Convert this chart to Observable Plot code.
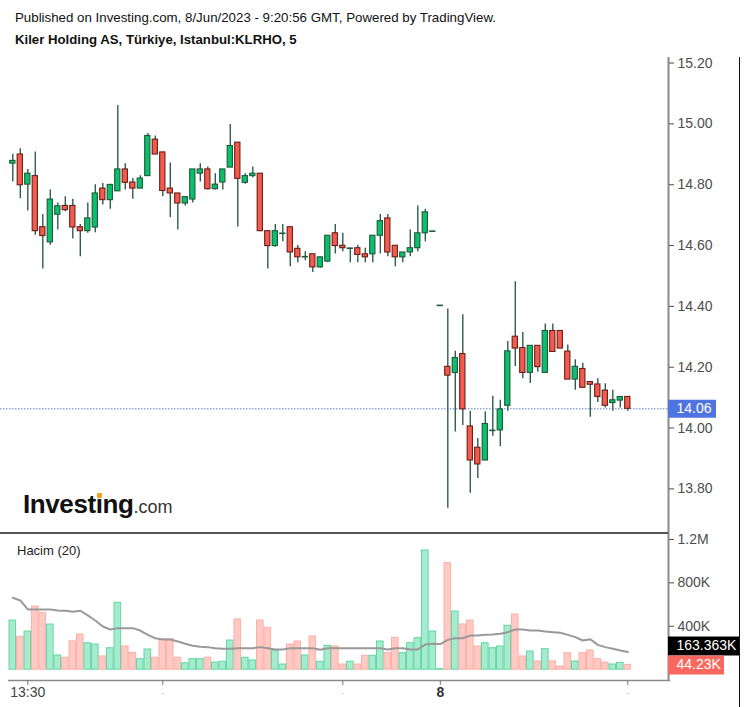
<!DOCTYPE html>
<html><head><meta charset="utf-8">
<script src="https://cdn.jsdelivr.net/npm/d3@7"></script>
<script src="https://cdn.jsdelivr.net/npm/@observablehq/plot@0.6"></script>
<style>
body{margin:0;background:#fff;font-family:"Liberation Sans",Arial,sans-serif;}
#root{position:relative;width:747px;height:707px;overflow:hidden;background:#fff;}
#pub{position:absolute;left:15px;top:10px;font-size:13.3px;color:#111;white-space:nowrap;line-height:15px;}
#title{position:absolute;left:15px;top:32px;font-size:13.2px;font-weight:bold;color:#111;white-space:nowrap;line-height:15px;}
#price{position:absolute;left:0;top:57px;}
#vol{position:absolute;left:0;top:533px;}
#sep{position:absolute;left:0;top:532px;width:668px;height:1.5px;background:#555;}
#rline{position:absolute;left:739px;top:57px;width:1px;height:650px;background:#111;}
#logo{position:absolute;left:23px;top:489px;white-space:nowrap;line-height:30px;}
#logo .inv{font-size:26px;font-weight:bold;color:#111;letter-spacing:-0.4px;}
#logo .com{font-size:18px;color:#333;}
#logo .dot{position:relative;}
#logo .dot::after{content:"";position:absolute;left:1.5px;top:4px;width:4.5px;height:5px;background:#f7a021;border-radius:1px;}
#hacim{position:absolute;left:17px;top:543px;font-size:13px;color:#222;line-height:15px;}
svg{overflow:visible;}
</style></head><body><div id="root">
<div id="pub">Published on Investing.com, 8/Jun/2023 - 9:20:56 GMT, Powered by TradingView.</div>
<div id="title">Kiler Holding AS, Türkiye, Istanbul:KLRHO, 5</div>
<div id="price"></div>
<div id="vol"></div>
<div id="sep"></div>
<div id="logo"><span class="inv">Invest<span class="dot">i</span>ng</span><span class="com">.com</span></div>
<div id="hacim">Hacim (20)</div>
<div id="rline"></div>
</div>
<script>
// ---- data (5-minute candles, index 0 = 13:20 on 7 Jun, index 57 = 10:00 on 8 Jun) ----
const opens = [14.866,14.896,14.797,14.825,14.657,14.607,14.698,14.727,14.727,14.657,
14.644,14.656,14.784,14.746,14.775,14.847,14.804,14.784,14.825,14.945,
14.903,14.784,14.768,14.735,14.748,14.833,14.847,14.782,14.804,14.853,
14.935,14.803,14.825,14.833,14.644,14.595,14.637,14.657,14.586,14.56,
14.568,14.525,14.544,14.637,14.596,14.588,14.588,14.568,14.568,14.629,
14.686,14.596,14.558,14.574,14.588,14.637,14.644,14.40,14.198,14.178,
14.24,14.002,13.932,13.89,13.989,13.989,14.07,14.297,14.26,14.178,
14.267,14.178,14.316,14.316,14.248,14.156,14.191,14.148,14.14,14.12,
14.079,14.087,14.099];
const highs = [14.897,14.915,14.847,14.904,14.699,14.779,14.737,14.757,14.749,14.666,
14.737,14.797,14.801,14.798,15.057,14.866,14.817,14.826,14.965,14.957,
14.903,14.868,14.768,14.756,14.847,14.866,14.855,14.833,14.847,14.995,
14.935,14.833,14.855,14.833,14.644,14.666,14.666,14.657,14.597,14.576,
14.568,14.558,14.629,14.666,14.637,14.588,14.598,14.588,14.629,14.699,
14.699,14.596,14.574,14.648,14.727,14.716,14.644,14.40,14.388,14.249,
14.369,14.052,13.962,14.05,14.101,14.088,14.281,14.478,14.311,14.267,
14.267,14.339,14.339,14.316,14.27,14.221,14.21,14.148,14.159,14.142,
14.121,14.099,14.099];
const lows = [14.806,14.751,14.71,14.631,14.52,14.598,14.648,14.708,14.618,14.56,
14.637,14.639,14.73,14.716,14.775,14.779,14.749,14.784,14.825,14.896,
14.757,14.688,14.648,14.727,14.737,14.806,14.779,14.779,14.779,14.853,
14.658,14.798,14.82,14.642,14.52,14.591,14.609,14.527,14.54,14.547,
14.508,14.522,14.54,14.569,14.576,14.54,14.54,14.54,14.54,14.569,
14.56,14.527,14.54,14.56,14.576,14.609,14.644,14.40,13.733,13.984,
14.005,13.782,13.831,13.89,13.97,13.935,14.052,14.199,14.159,14.143,
14.18,14.178,14.247,14.258,14.156,14.121,14.129,14.032,14.081,14.063,
14.052,14.063,14.052];
const closes = [14.875,14.795,14.833,14.644,14.628,14.748,14.726,14.713,14.656,14.644,
14.686,14.768,14.746,14.796,14.847,14.803,14.784,14.817,14.957,14.896,
14.776,14.768,14.735,14.756,14.847,14.847,14.782,14.797,14.847,14.924,
14.816,14.825,14.833,14.644,14.595,14.644,14.637,14.574,14.558,14.56,
14.525,14.558,14.629,14.595,14.588,14.588,14.566,14.558,14.629,14.677,
14.574,14.558,14.574,14.588,14.637,14.706,14.644,14.40,14.169,14.227,
14.058,13.89,13.877,14.01,13.989,14.058,14.249,14.258,14.178,14.267,
14.197,14.316,14.247,14.258,14.156,14.198,14.129,14.139,14.099,14.07,
14.088,14.099,14.06];
const volumesK = [453,303,352,582,524,416,131,110,260,324,
244,232,122,198,616,214,155,97,186,110,
281,281,110,60,97,97,110,66,73,269,
463,110,85,453,386,177,48,232,260,131,
306,73,220,214,48,73,48,128,128,260,
152,294,152,244,290,1099,352,5,982,536,
417,453,214,244,198,214,405,509,122,168,
76,189,76,29,152,76,152,177,97,66,
48,63,44.23];
const volMA20K = [663,638,555,555,555,555,546,543,534,543,
500,453,398,370,383,383,383,361,321,290,
278,278,260,239,220,211,208,198,193,193,
198,198,198,208,198,186,186,198,198,198,
198,183,198,198,198,198,198,198,198,198,
186,198,198,186,186,232,239,236,275,290,
290,315,315,321,324,331,346,370,370,361,
361,352,346,340,321,300,269,281,229,208,
193,177,163.363];
const timeTickIdx = [2, 20, 44, 57, 82];
const timeTickLabels = ["13:30", "-", "-", "8", "-"];
const priceTicks = [13.8, 14.0, 14.2, 14.4, 14.6, 14.8, 15.0, 15.2];
const volTicks = [400000, 800000, 1200000];
const volTickLabels = ["400K", "800K", "1.2M"];

// ---- layout ----
const PX = 7.5, X0 = 12.3, PW = 668;
const xDomain = [-X0 / PX, (PW - X0) / PX];
const xEnd = xDomain[1];
const GREEN = "#0cbf6c", RED = "#f45b4e";
const font = "Liberation Sans, Arial, sans-serif";

const candles = opens.map((o, i) => ({i, o, h: highs[i], l: lows[i], c: closes[i], up: closes[i] >= o}));
const bodies = candles.filter(d => d.o !== d.c);
const dojis = candles.filter(d => d.o === d.c);
const lastClose = closes[closes.length - 1];

const price = Plot.plot({
  width: 747, height: 476, marginLeft: 0, marginRight: 79, marginTop: 0, marginBottom: 0,
  style: {background: "transparent", fontFamily: font, overflow: "visible"},
  x: {domain: xDomain, axis: null, label: null},
  y: {domain: [13.6500, 15.2150], axis: null, label: null},
  marks: [
    Plot.ruleY([lastClose], {x1: xDomain[0], x2: xEnd, stroke: "#5a7de0", strokeWidth: 1, strokeDasharray: "1.5,1.5"}),
    Plot.ruleX(candles.filter(d => d.h > d.l), {x: "i", y1: "l", y2: "h", stroke: "#2f5e4b", strokeWidth: 1.4}),
    Plot.rect(bodies, {x1: d => d.i - 0.35, x2: d => d.i + 0.35,
      y1: d => Math.min(d.o, d.c), y2: d => Math.max(d.o, d.c),
      fill: d => d.up ? GREEN : RED, stroke: d => d.up ? "#1c5a3b" : "#6a1e17", strokeWidth: 1.1}),
    Plot.ruleY(dojis, {y: "c", x1: d => d.i - 0.42, x2: d => d.i + 0.42, stroke: "#1f5a3e", strokeWidth: 1.6}),
    Plot.ruleX([xEnd], {stroke: "#8a8a8a", strokeWidth: 2}),
    Plot.axisY(priceTicks, {anchor: "right", label: null, tickFormat: d => d.toFixed(2), tickSize: 5, tickPadding: 4, fontSize: 14, color: "#4d4d4d", dy: 1}),
    Plot.ruleY([lastClose], {x1: xEnd, x2: xEnd + 48 / PX, stroke: "#4f74e0", strokeWidth: 18}),
    Plot.text([lastClose], {x: xEnd, y: d => d, text: d => d.toFixed(2), dx: 8, textAnchor: "start", fill: "white", fontSize: 14})
  ]
});
document.getElementById("price").appendChild(price);

const vols = volumesK.map((v, i) => ({i, v: v * 1000, up: candles[i].up}));
const ma = volMA20K.map((v, i) => ({i, v: v * 1000}));
const vYmin = -99500;
const lastVol = vols[vols.length - 1].v, lastMA = ma[ma.length - 1].v;
const volLabel = new Map(volTicks.map((t, k) => [t, volTickLabels[k]]));
const timeLabel = new Map(timeTickIdx.map((t, k) => [t, timeTickLabels[k]]));

const vol = Plot.plot({
  width: 747, height: 174, marginLeft: 0, marginRight: 79, marginTop: 0, marginBottom: 27,
  style: {background: "transparent", fontFamily: font, overflow: "visible"},
  x: {domain: xDomain, axis: null, label: null},
  y: {domain: [vYmin, 1255000], axis: null, label: null},
  marks: [
    Plot.rect(vols, {x1: d => d.i - 0.44, x2: d => d.i + 0.44, y1: 0, y2: "v",
      fill: d => d.up ? "#a6ead0" : "#ffc9c4", stroke: d => d.up ? "#60d9a2" : "#ffaea6", strokeWidth: 1}),
    Plot.line(ma, {x: "i", y: "v", stroke: "#999999", strokeWidth: 2}),
    Plot.ruleX([xEnd], {y1: vYmin, y2: 1255000, stroke: "#8a8a8a", strokeWidth: 2}),
    Plot.ruleY([vYmin], {x1: -0.57, x2: xEnd + 0.3, stroke: "#8a8a8a", strokeWidth: 1.5}),
    Plot.axisY(volTicks, {anchor: "right", label: null, tickFormat: d => volLabel.get(d), tickSize: 5, tickPadding: 4, fontSize: 14, color: "#4d4d4d"}),
    Plot.ruleY([lastMA], {x1: xEnd, x2: xEnd + 72 / PX, stroke: "#000", strokeWidth: 19, dy: -6}),
    Plot.text([lastMA], {x: xEnd, y: d => d, text: d => (d / 1000).toFixed(3) + "K", dx: 8, dy: -6, textAnchor: "start", fill: "white", fontSize: 14}),
    Plot.ruleY([lastVol], {x1: xEnd, x2: xEnd + 56 / PX, stroke: "#f8685e", strokeWidth: 19}),
    Plot.text([lastVol], {x: xEnd, y: d => d, text: d => (d / 1000).toFixed(2) + "K", dx: 8, textAnchor: "start", fill: "white", fontSize: 14}),
    Plot.axisX(timeTickIdx, {anchor: "bottom", label: null, tickSize: 5, tickFormat: () => "", color: "#777"}),
    Plot.axisX(timeTickIdx.filter(t => timeLabel.get(t) === "13:30"), {anchor: "bottom", label: null, tickSize: 0, tickPadding: 7, tickFormat: d => timeLabel.get(d), fontSize: 14, color: "#444"}),
    Plot.axisX(timeTickIdx.filter(t => timeLabel.get(t) === "8"), {anchor: "bottom", label: null, tickSize: 0, tickPadding: 7, tickFormat: d => timeLabel.get(d), fontSize: 14, fontWeight: "bold", color: "#333"}),
    Plot.axisX(timeTickIdx.filter(t => timeLabel.get(t) === "-"), {anchor: "bottom", label: null, tickSize: 0, tickPadding: 9, tickFormat: d => timeLabel.get(d), fontSize: 8, color: "#aaa"})
  ]
});
document.getElementById("vol").appendChild(vol);
</script>
</body></html>
